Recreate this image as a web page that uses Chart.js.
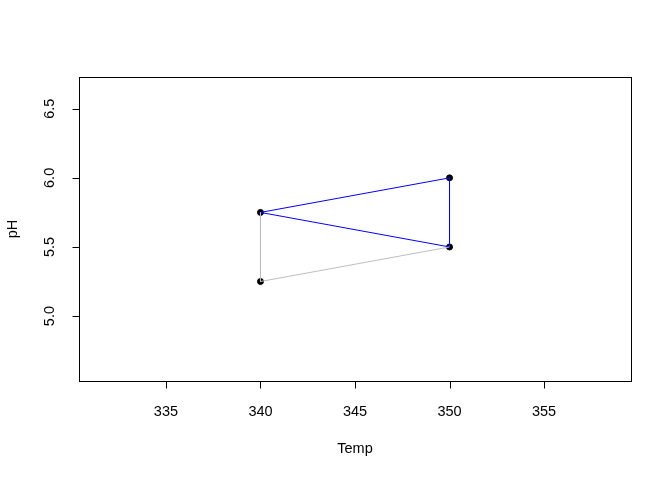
<!DOCTYPE html>
<html>
<head>
<meta charset="utf-8">
<script src="https://cdn.jsdelivr.net/npm/chart.js@4/dist/chart.umd.min.js"></script>
<style>
html,body{margin:0;padding:0;background:#fff;}
canvas{display:block;}
</style>
</head>
<body>
<canvas id="c" width="672" height="480"></canvas>
<script>
// Data
const temp = [340, 350, 350, 340];
const pH = [5.75, 6.0, 5.5, 5.25];
// blue path: point order indices
const bluePath = [0, 1, 2, 0];
// gray path
const grayPath = [0, 3, 2];
const xTicks = [335, 340, 345, 350, 355];
const yTicks = [5.0, 5.5, 6.0, 6.5];
const xLabel = "Temp";
const yLabel = "pH";

const FONT = '14.5px "Liberation Sans", Arial, sans-serif';

const pts = temp.map((t, i) => ({x: t, y: pH[i]}));
const path = idx => idx.map(i => pts[i]);

const rAxes = {
  id: 'rAxes',
  afterDraw(chart) {
    const ctx = chart.ctx;
    const a = chart.chartArea;
    const xs = chart.scales.x, ys = chart.scales.y;
    ctx.save();
    ctx.strokeStyle = '#000';
    ctx.lineWidth = 1;
    // box
    ctx.strokeRect(Math.round(a.left) + 0.5, Math.round(a.top) + 0.5,
      Math.round(a.right - a.left), Math.round(a.bottom - a.top));
    ctx.fillStyle = '#000';
    ctx.font = FONT;
    // x ticks
    ctx.textAlign = 'center';
    ctx.textBaseline = 'middle';
    const by = Math.round(a.bottom) + 0.5;
    ctx.beginPath();
    ctx.moveTo(Math.round(xs.getPixelForValue(xTicks[0])) + 0.5, by);
    ctx.lineTo(Math.round(xs.getPixelForValue(xTicks[xTicks.length - 1])) + 0.5, by);
    xTicks.forEach(v => {
      const px = Math.round(xs.getPixelForValue(v)) + 0.5;
      ctx.moveTo(px, by);
      ctx.lineTo(px, by + 7);
    });
    ctx.stroke();
    xTicks.forEach(v => {
      ctx.fillText(String(v), xs.getPixelForValue(v), a.bottom + 31);
    });
    // y ticks
    const lx = Math.round(a.left) + 0.5;
    ctx.beginPath();
    ctx.moveTo(lx, Math.round(ys.getPixelForValue(yTicks[0])) + 0.5);
    ctx.lineTo(lx, Math.round(ys.getPixelForValue(yTicks[yTicks.length - 1])) + 0.5);
    yTicks.forEach(v => {
      const py = Math.round(ys.getPixelForValue(v)) + 0.5;
      ctx.moveTo(lx, py);
      ctx.lineTo(lx - 7, py);
    });
    ctx.stroke();
    yTicks.forEach(v => {
      ctx.save();
      ctx.translate(a.left - 29, ys.getPixelForValue(v));
      ctx.rotate(-Math.PI / 2);
      ctx.fillText(v.toFixed(1), 0, 0);
      ctx.restore();
    });
    // axis titles
    ctx.fillText(xLabel, (a.left + a.right) / 2, a.bottom + 68);
    ctx.save();
    ctx.translate(a.left - 66, (a.top + a.bottom) / 2);
    ctx.rotate(-Math.PI / 2);
    ctx.fillText(yLabel, 0, 0);
    ctx.restore();
    ctx.restore();
  }
};

new Chart(document.getElementById('c'), {
  type: 'scatter',
  data: {
    datasets: [
      {data: path(grayPath), showLine: true, borderColor: '#BEBEBE', borderWidth: 1, pointRadius: 0, fill: false, tension: 0},
      {data: path(bluePath), showLine: true, borderColor: '#0000FF', borderWidth: 1, pointRadius: 0, fill: false, tension: 0},
      {data: pts, showLine: false, pointRadius: 3, pointBackgroundColor: '#000', pointBorderColor: '#000', pointBorderWidth: 1}
    ]
  },
  options: {
    responsive: false,
    devicePixelRatio: 1,
    animation: false,
    layout: {padding: {left: 79, right: 41, top: 77, bottom: 99}},
    plugins: {legend: {display: false}, tooltip: {enabled: false}},
    scales: {
      x: {type: 'linear', min: 330.4, max: 359.6, display: false},
      y: {type: 'linear', min: 4.53, max: 6.73, display: false}
    }
  },
  plugins: [rAxes]
});
</script>
</body>
</html>
